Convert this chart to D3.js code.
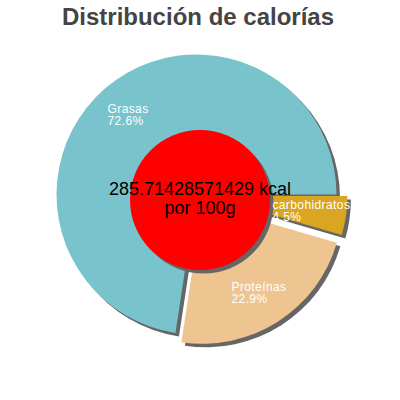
<!DOCTYPE html>
<html>
<head>
<meta charset="utf-8">
<script src="https://cdn.jsdelivr.net/npm/d3@7"></script>
<style>
  body { margin: 0; background: #fff; }
  svg { font-family: "Liberation Sans", Arial, sans-serif; }
</style>
</head>
<body>
<div id="chart"></div>
<script>
// values
const categories = ["Grasas", "Proteínas", "carbohidratos"];
const percents = [72.6, 22.9, 4.5];
const exploded = [false, true, true];
const colors = ["#79c4cc", "#eec591", "#daa520"];
const centerLines = ["285.71428571429 kcal", "por 100g"];
const title = "Distribución de calorías";

const width = 400, height = 400;
const cx = 196.5, cy = 194.5, radius = 140;
const explode = 11;
const shadow = 3.5;

const svg = d3.select("#chart")
    .append("svg")
    .attr("width", width)
    .attr("height", height);

svg.append("text")
    .attr("x", 198)
    .attr("y", 25)
    .attr("text-anchor", "middle")
    .attr("font-size", 24)
    .attr("font-weight", "bold")
    .attr("fill", "#444")
    .text(title);

const data = categories.map((c, i) => ({name: c, value: percents[i], exploded: exploded[i], color: colors[i]}));

// starts at 3 o'clock, goes counterclockwise
const pie = d3.pie()
    .sort(null)
    .value(d => d.value)
    .startAngle(Math.PI / 2)
    .endAngle(Math.PI / 2 - 2 * Math.PI);

const arcs = pie(data);
const arc = d3.arc().innerRadius(0).outerRadius(radius);
const labelArc = d3.arc().innerRadius(radius * 0.75).outerRadius(radius * 0.75);

function offset(d) {
    if (!d.data.exploded) return [0, 0];
    const a = (d.startAngle + d.endAngle) / 2;
    return [Math.sin(a) * explode, -Math.cos(a) * explode];
}

const g = svg.append("g").attr("transform", `translate(${cx},${cy})`);

g.selectAll(".shadow")
    .data(arcs)
    .enter().append("path")
    .attr("class", "shadow")
    .attr("fill", "#666")
    .attr("transform", d => { const o = offset(d); return `translate(${o[0] + shadow},${o[1] + shadow})`; })
    .attr("d", arc);

g.selectAll(".slice")
    .data(arcs)
    .enter().append("path")
    .attr("class", "slice")
    .attr("fill", d => d.data.color)
    .attr("transform", d => { const o = offset(d); return `translate(${o[0]},${o[1]})`; })
    .attr("d", arc);

// donut centre with its shadow
const hole = svg.append("g").attr("transform", "translate(200,200)");
hole.append("circle").attr("cx", shadow).attr("cy", shadow).attr("r", 70).attr("fill", "#666");
hole.append("circle").attr("r", 70).attr("fill", "#ff0000");

// slice labels: two left-aligned lines, block centred on the centroid
arcs.forEach(d => {
    const o = offset(d);
    const c = labelArc.centroid(d);
    const lg = svg.append("g")
        .attr("transform", `translate(${cx + o[0] + c[0]},${cy + o[1] + c[1]})`);
    const t = lg.append("text")
        .attr("fill", "#fff")
        .attr("font-size", 12)
        .attr("letter-spacing", 0.4);
    t.append("tspan").attr("x", 0).attr("y", -1.5).text(d.data.name);
    t.append("tspan").attr("x", 0).attr("y", 10.5).text(d.data.value + "%");
    const w = t.node().getBBox().width;
    t.attr("transform", `translate(${-w / 2},0)`);
});

hole.append("text")
    .attr("text-anchor", "middle")
    .attr("font-size", 18)
    .attr("fill", "#000")
    .selectAll("tspan")
    .data(centerLines)
    .enter().append("tspan")
    .attr("x", 0)
    .attr("y", (d, i) => -5 + i * 19)
    .text(d => d);
</script>
</body>
</html>
